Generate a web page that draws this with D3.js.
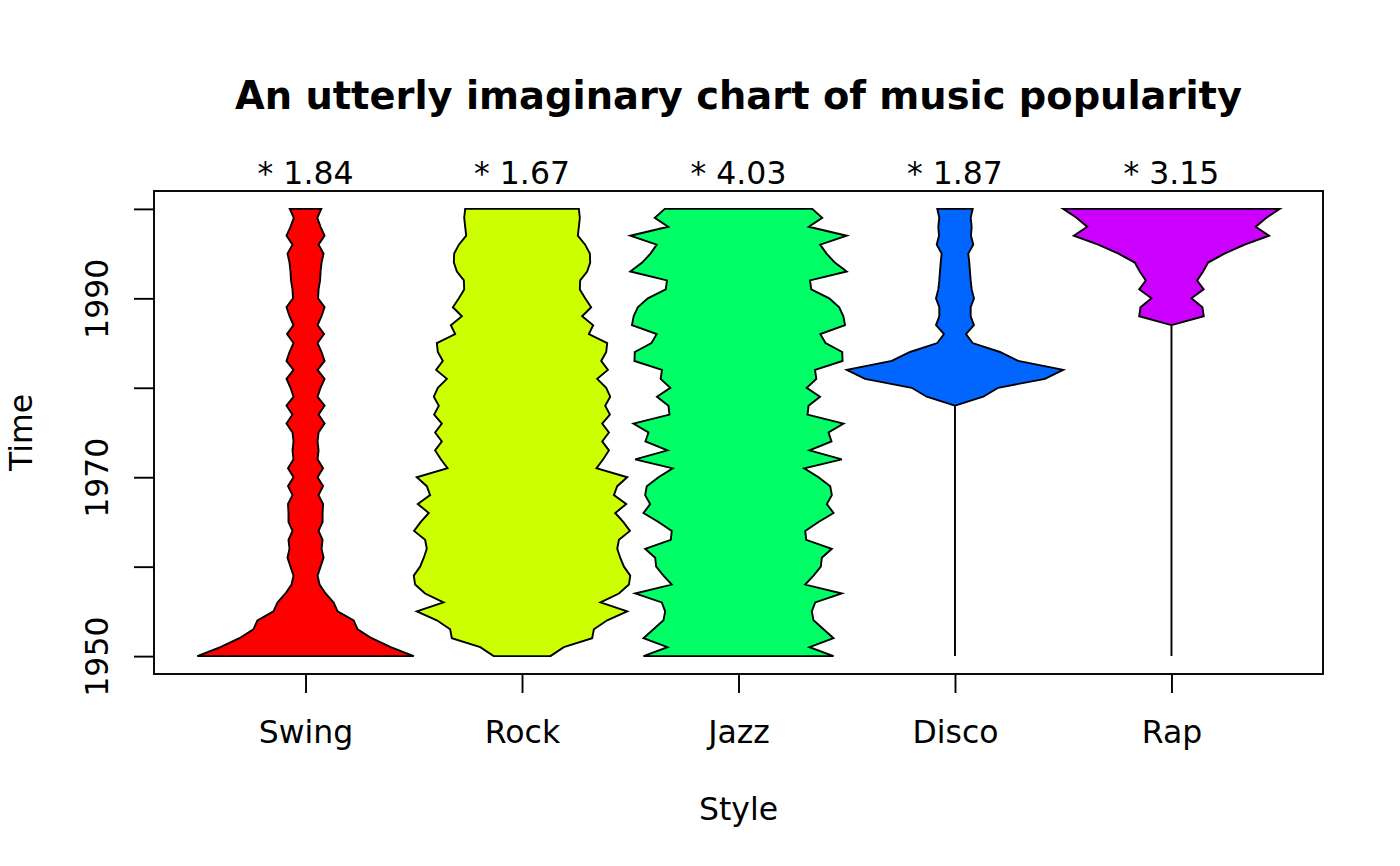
<!DOCTYPE html>
<html>
<head>
<meta charset="utf-8">
<script src="https://cdn.jsdelivr.net/npm/d3@7"></script>
<style>
  html, body { margin: 0; padding: 0; background: #ffffff; }
  svg { display: block; }
  text { font-family: "DejaVu Sans", sans-serif; fill: #000; }
</style>
</head>
<body>
<svg id="chart" width="1400" height="866"></svg>
<script>
// ---------------- data ----------------
const title = "An utterly imaginary chart of music popularity";
const xTitle = "Style";
const yTitle = "Time";
const styles = ["Swing", "Rock", "Jazz", "Disco", "Rap"];
const colors = ["#FF0000", "#CCFF00", "#00FF66", "#0066FF", "#CC00FF"];
const multipliers = ["* 1.84", "* 1.67", "* 4.03", "* 1.87", "* 3.15"];
const years = d3.range(1950, 2001);            // 1950 .. 2000
const yearTicks = [1950, 1960, 1970, 1980, 1990, 2000];
const yearTickLabels = ["1950", "", "1970", "", "1990", ""];

// popularity (relative units), one value per year 1950..2000
const swing = [108, 85, 66, 52, 48, 32, 28, 20, 14, 12,
               15, 18, 16, 17, 13, 17, 17, 17.5, 13, 17.5,
               12, 17.5, 12, 13, 12, 13, 19, 13, 19, 12,
               15, 19, 12, 19, 16, 12, 18.5, 12, 16, 19,
               12.5, 13, 14.5, 15, 16, 18, 13, 19, 15, 11.7,
               15.7];
const rock = [28.3, 41.7, 70, 71.7, 85, 105, 78.3, 96.7, 106.7, 108,
              101.7, 98, 95, 96.7, 107.7, 101, 93, 104, 91.7, 95,
              105, 74.3, 81, 86.7, 80, 86.7, 80, 87.7, 83, 88,
              84, 75, 85.7, 79, 84, 85, 66.7, 71, 60, 69,
              63, 57.7, 58, 65, 68, 67.7, 63, 55.7, 56.7, 57.7,
              56.7];
const jazz = [95, 71, 95, 85, 75, 73.3, 76.7, 103.3, 66.7, 75,
              82.3, 83.3, 93.3, 67.7, 66.7, 80, 95, 88.3, 93.3, 91.7,
              80, 65.7, 103.3, 71, 93, 90, 105, 69, 70, 81.5,
              68.2, 77.8, 76.5, 104, 103.7, 87, 81.8, 106.5, 104.8, 100.7,
              90.7, 72.7, 71.5, 108.2, 96.3, 88, 81.7, 108.2, 70.3, 83.7,
              73.7];
const disco = [0, 0, 0, 0, 0, 0, 0, 0, 0, 0,
               0, 0, 0, 0, 0, 0, 0, 0, 0, 0,
               0, 0, 0, 0, 0, 0, 0, 0, 0, 28.3,
               43.3, 90, 108.3, 63.3, 45, 17.7, 11, 19, 15.7, 15.7,
               19, 16.7, 15.7, 15, 14.3, 13.3, 18.3, 16, 16.7, 15.7,
               17.7];
const rap = [0, 0, 0, 0, 0, 0, 0, 0, 0, 0,
             0, 0, 0, 0, 0, 0, 0, 0, 0, 0,
             0, 0, 0, 0, 0, 0, 0, 0, 0, 0,
             0, 0, 0, 0, 0, 0, 0, 0, 32.3, 31,
             20, 32.3, 25.7, 31.7, 36.7, 53, 73.3, 97.7, 84.3, 95,
             108.3];
const series = [swing, rock, jazz, disco, rap];

// ---------------- layout ----------------
const svg = d3.select("#chart");
const W = 1400, H = 866;
const plot = { left: 154, right: 1323, top: 191, bottom: 674 };

// R-style 4% axis expansion
function expand(lo, hi) { const d = (hi - lo) * 0.04; return [lo - d, hi + d]; }
const x = d3.scaleLinear().domain(expand(0.5, styles.length + 0.5)).range([plot.left, plot.right]);
const y = d3.scaleLinear().domain(expand(years[0], years[years.length - 1])).range([plot.bottom, plot.top]);

svg.append("rect").attr("width", W).attr("height", H).attr("fill", "#fff");

// kites: each row normalised so that its maximum fills half the category spacing
series.forEach((vals, i) => {
  const half = d3.scaleLinear().domain([0, d3.max(vals)]).range([0, 0.5]);
  const cx = i + 1;
  const pts = [];
  years.forEach((yr, k) => pts.push([x(cx + half(vals[k])), y(yr)]));
  for (let k = years.length - 1; k >= 0; k--) pts.push([x(cx - half(vals[k])), y(years[k])]);
  svg.append("path")
    .attr("d", d3.line()(pts) + "Z")
    .attr("fill", colors[i])
    .attr("stroke", "#000")
    .attr("stroke-width", 1.9)
    .attr("stroke-linejoin", "miter");
});

// plot box
svg.append("rect")
  .attr("x", plot.left).attr("y", plot.top)
  .attr("width", plot.right - plot.left).attr("height", plot.bottom - plot.top)
  .attr("fill", "none").attr("stroke", "#000").attr("stroke-width", 1.9);

// x axis
const xAxis = d3.axisBottom(x)
  .tickValues(d3.range(1, styles.length + 1))
  .tickFormat(d => styles[d - 1])
  .tickSize(19).tickPadding(27);
const gx = svg.append("g").attr("transform", `translate(0,${plot.bottom})`).call(xAxis);
gx.select(".domain").remove();
gx.selectAll(".tick line").attr("stroke", "#000").attr("stroke-width", 1.9);
gx.selectAll(".tick text").attr("font-size", "31.5px").attr("font-family", "DejaVu Sans").attr("fill", "#000")
  .attr("dy", null).attr("y", 69);

// y axis
const yAxis = d3.axisLeft(y)
  .tickValues(yearTicks)
  .tickFormat((d, i) => yearTickLabels[i])
  .tickSize(20);
const gy = svg.append("g").attr("transform", `translate(${plot.left},0)`).call(yAxis);
gy.select(".domain").remove();
gy.selectAll(".tick line").attr("stroke", "#000").attr("stroke-width", 1.9);
gy.selectAll(".tick text")
  .attr("font-size", "31.5px").attr("font-family", "DejaVu Sans").attr("fill", "#000")
  .attr("x", null).attr("dy", null)
  .attr("text-anchor", "middle")
  .attr("transform", "translate(-46,0) rotate(-90)");

// multipliers above each kite
svg.selectAll("text.mult")
  .data(multipliers)
  .join("text")
  .attr("class", "mult")
  .attr("x", (d, i) => x(i + 1))
  .attr("y", 184)
  .attr("text-anchor", "middle")
  .attr("font-size", "31.5px")
  .text(d => d);

// titles
svg.append("text")
  .attr("x", (plot.left + plot.right) / 2).attr("y", 109)
  .attr("text-anchor", "middle").attr("font-size", "38.4px").attr("font-weight", "bold")
  .text(title);
svg.append("text")
  .attr("x", (plot.left + plot.right) / 2).attr("y", 820)
  .attr("text-anchor", "middle").attr("font-size", "31.5px")
  .text(xTitle);
svg.append("text")
  .attr("transform", `translate(32,${(plot.top + plot.bottom) / 2}) rotate(-90)`)
  .attr("text-anchor", "middle").attr("font-size", "31.5px")
  .text(yTitle);
</script>
</body>
</html>
